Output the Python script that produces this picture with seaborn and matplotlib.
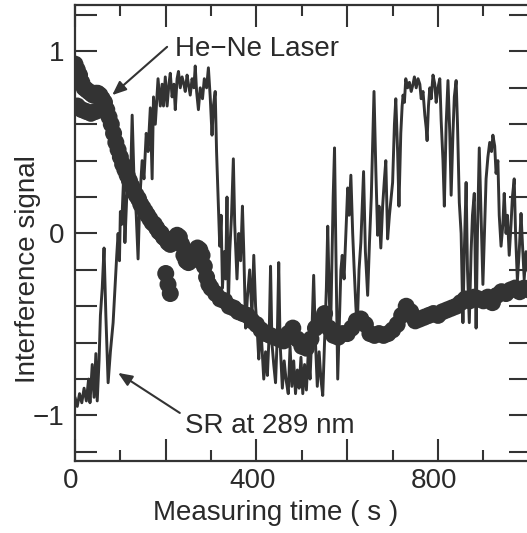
import matplotlib
matplotlib.use("Agg")
import matplotlib.pyplot as plt
import numpy as np
import pandas as pd
import seaborn as sns
from matplotlib.ticker import MultipleLocator, FuncFormatter
from matplotlib.transforms import ScaledTranslation

# He-Ne laser reference fringe
hene_time = [0, 5, 10, 15, 20, 25, 30, 35, 40, 45, 50, 55, 60, 65, 70, 75,
             5, 15, 25, 35, 45, 55,
             80, 85, 90, 95, 100, 105, 110, 115, 120, 125, 130, 135, 140, 145,
             150, 155, 160, 165, 170, 175, 180, 185, 190, 195, 200, 205, 210, 215,
             220, 225, 230, 235, 240, 245, 250, 255, 260, 265, 270, 275, 280, 285,
             290, 295, 300, 310, 320, 330, 340, 350, 360, 370, 380, 390,
             400, 410, 420, 430, 440, 450, 460, 470, 480, 490,
             500, 510, 520, 530, 540, 550, 560, 570, 580, 590,
             600, 610, 620, 630, 640, 650, 660, 670, 680, 690,
             700, 710, 720, 730, 740, 750, 760, 770, 780, 790,
             800, 810, 820, 830, 840, 850, 860, 870, 880, 890,
             900, 910, 920, 930, 940, 950, 960, 970, 980, 990, 1000,
             200, 205, 210]
hene_signal = [0.93, 0.90, 0.87, 0.83, 0.80, 0.79, 0.78, 0.77, 0.76, 0.77, 0.77, 0.76, 0.74, 0.72, 0.68, 0.64,
               0.70, 0.68, 0.67, 0.66, 0.67, 0.68,
               0.60, 0.55, 0.50, 0.46, 0.42, 0.38, 0.35, 0.32, 0.29, 0.26, 0.23, 0.21, 0.19, 0.16,
               0.14, 0.12, 0.10, 0.08, 0.06, 0.05, 0.03, 0.01, 0.00, -0.02, -0.03, -0.05, -0.06, -0.05,
               -0.03, -0.01, -0.02, -0.06, -0.12, -0.15, -0.16, -0.15, -0.13, -0.10, -0.08, -0.09, -0.12, -0.18,
               -0.24, -0.28, -0.30, -0.33, -0.36, -0.37, -0.40, -0.41, -0.43, -0.44, -0.45, -0.48,
               -0.50, -0.53, -0.55, -0.56, -0.57, -0.58, -0.59, -0.55, -0.52, -0.58,
               -0.62, -0.63, -0.58, -0.52, -0.48, -0.44, -0.52, -0.56, -0.57, -0.55,
               -0.55, -0.52, -0.48, -0.47, -0.50, -0.55, -0.56, -0.55, -0.56, -0.55,
               -0.53, -0.50, -0.45, -0.40, -0.43, -0.48, -0.47, -0.46, -0.45, -0.44,
               -0.45, -0.43, -0.42, -0.41, -0.40, -0.38, -0.36, -0.37, -0.35, -0.36,
               -0.37, -0.35, -0.38, -0.34, -0.32, -0.33, -0.31, -0.30, -0.32, -0.30, -0.31,
               -0.22, -0.28, -0.33]

# Synchrotron radiation signal at 289 nm
sr_time = [0, 5, 10, 15, 20, 25, 30, 33, 38, 42, 46, 49, 53, 56, 60, 64, 68, 73, 78, 84,
           88, 92, 95, 98, 100, 103, 107, 110, 114, 118, 122, 126, 130, 135, 139, 143, 148, 152, 157, 161,
           166, 170, 173, 177, 183, 188, 192, 195, 199, 203, 207, 210, 214, 218, 221, 225, 228, 232, 236, 240,
           243, 247, 250, 254, 258, 262, 265, 268, 272, 276, 281, 285, 290, 294, 298, 302, 305, 309, 312, 316,
           319, 322, 325, 329, 332, 335, 338, 341, 345, 349, 352, 357, 361, 365, 369, 372, 376, 380, 385, 390,
           394, 398, 402, 405, 409, 412, 416, 420, 424, 428, 431, 434, 438, 442, 446, 449, 452, 457, 461, 465,
           470, 474, 478, 482, 486, 490, 494, 498, 502, 506, 510, 514, 518, 522, 526, 530, 534, 538, 542, 546,
           550, 554, 557, 560, 563, 566, 569, 572, 575, 579, 583, 586, 589, 593, 597, 601, 604, 608, 612, 615,
           619, 622, 626, 630, 633, 636, 640, 645, 649, 653, 656, 659, 663, 667, 670, 674, 678, 682, 685, 689,
           693, 697, 700, 704, 707, 711, 714, 718, 721, 723, 726, 729, 733, 737, 741, 745, 748, 752, 756, 760,
           763, 767, 771, 774, 776, 779, 782, 785, 789, 793, 796, 800, 804, 807, 811, 814, 818, 822, 826, 829,
           833, 836, 840, 843, 847, 851, 855, 858, 862, 865, 869, 873, 876, 880, 884, 887, 891, 895, 899, 903,
           906, 910, 914, 918, 921, 925, 928, 932, 935, 939, 943, 946, 950, 953, 957, 961, 964, 968, 971, 975,
           979, 983, 986, 990, 994, 998, 1002]
sr_signal = [-0.90, -0.95, -0.88, -0.93, -0.85, -0.92, -0.80, -0.93, -0.72, -0.90, -0.66, -0.92, -0.70, -0.45, -0.30, -0.08, -0.45, -0.82, -0.65, -0.49,
             -0.30, -0.12, 0.00, -0.15, 0.12, 0.05, 0.30, -0.05, 0.20, 0.35, 0.25, 0.65, 0.30, 0.10, -0.14, 0.20, 0.40, 0.30, 0.55, 0.45,
             0.69, 0.30, 0.75, 0.60, 0.85, 0.70, 0.82, 0.70, 0.86, 0.70, 0.82, 0.88, 0.75, 0.82, 0.68, 0.85, 0.89, 0.80, 0.86, 0.82,
             0.78, 0.87, 0.82, 0.76, 0.85, 0.80, 0.92, 0.78, 0.68, 0.80, 0.74, 0.85, 0.80, 0.91, 0.75, 0.54, 0.70, 0.78, 0.45, 0.15,
             -0.07, 0.10, -0.30, -0.10, -0.25, 0.20, -0.40, -0.10, 0.10, 0.41, 0.05, -0.25, 0.00, -0.15, 0.15, -0.10, -0.52, -0.35, -0.20, -0.45,
             -0.12, -0.40, -0.55, -0.69, -0.50, -0.62, -0.80, -0.65, -0.78, -0.55, -0.18, -0.60, -0.72, -0.82, -0.55, -0.16, -0.60, -0.85, -0.70, -0.80,
             -0.88, -0.62, -0.84, -0.70, -0.88, -0.75, -0.85, -0.68, -0.88, -0.72, -0.86, -0.66, -0.80, -0.55, -0.23, -0.60, -0.84, -0.65, -0.80, -0.89,
             -0.60, -0.30, 0.04, -0.30, -0.58, -0.20, 0.20, 0.47, -0.10, -0.80, -0.45, -0.20, -0.12, -0.25, 0.00, 0.25, 0.10, 0.32, 0.00, -0.18,
             -0.40, -0.52, -0.20, -0.05, 0.15, 0.34, -0.10, -0.34, -0.05, 0.20, 0.50, 0.78, 0.35, -0.01, 0.15, -0.08, 0.15, 0.30, 0.40, -0.03,
             0.10, 0.20, 0.28, 0.60, 0.74, 0.45, 0.15, 0.55, 0.70, 0.76, 0.72, 0.85, 0.80, 0.83, 0.78, 0.82, 0.86, 0.80, 0.85, 0.82,
             0.74, 0.78, 0.65, 0.58, 0.51, 0.70, 0.80, 0.74, 0.87, 0.82, 0.72, 0.80, 0.85, 0.62, 0.40, 0.15, 0.60, 0.84, 0.55, 0.21,
             0.55, 0.75, 0.84, 0.60, 0.17, 0.00, -0.49, -0.10, 0.28, -0.20, -0.49, -0.10, 0.10, 0.22, -0.52, 0.00, 0.47, 0.10, -0.28, 0.05,
             0.30, 0.42, 0.50, 0.45, 0.54, 0.48, 0.33, 0.40, 0.10, -0.07, 0.05, 0.22, 0.00, 0.10, -0.12, 0.05, 0.20, 0.30, 0.00, -0.26,
             -0.10, 0.11, -0.05, -0.25, -0.10, -0.20, -0.30]

x_tick_labels = {0: "0", 400: "400", 800: "800"}
y_tick_labels = {-1: "\u22121", 0: "0", 1: "1"}

hene = pd.DataFrame({"time": hene_time, "signal": hene_signal})
sr = pd.DataFrame({"time": sr_time, "signal": sr_signal})

sns.set_theme(style="ticks")
plt.rcParams["font.family"] = ["Liberation Sans", "DejaVu Sans"]

INK = "#333333"
TEXT = "#2a2a2a"
FS = 20

fig = plt.figure(figsize=(5.27, 5.33), dpi=100)
ax = fig.add_axes([75 / 527, 72 / 533, 456 / 527, 456 / 533])

sns.lineplot(data=sr, x="time", y="signal", sort=False, estimator=None,
             color=INK, linewidth=2.1, ax=ax)
sns.scatterplot(data=hene, x="time", y="signal", s=150, color=INK,
                edgecolor="none", linewidth=0, ax=ax, zorder=3)

ax.set_xlim(0, 1005)
ax.set_ylim(-1.25, 1.255)

# ticks on all four sides, pointing inward
ax.xaxis.set_major_locator(MultipleLocator(200))
ax.xaxis.set_minor_locator(MultipleLocator(100))
ax.yaxis.set_major_locator(MultipleLocator(0.2))
ax.xaxis.set_major_formatter(FuncFormatter(
    lambda v, p: x_tick_labels.get(int(round(v)), "")))
ax.yaxis.set_major_formatter(FuncFormatter(
    lambda v, p: y_tick_labels.get(int(round(v)), "") if abs(v - round(v)) < 1e-6 else ""))
ax.tick_params(axis="both", which="both", direction="in", top=True, right=True,
               colors=INK, width=1.5, labelsize=FS, labelcolor=TEXT)
ax.tick_params(axis="x", which="major", length=16, pad=5)
ax.tick_params(axis="x", which="minor", length=8)
ax.tick_params(axis="y", which="major", length=16, pad=8)
for lab in ax.get_xticklabels():
    lab.set_transform(lab.get_transform() + ScaledTranslation(-0.04, 0, fig.dpi_scale_trans))

for sp in ax.spines.values():
    sp.set_color(INK)
    sp.set_linewidth(1.6)

ax.set_xlabel("Measuring time ( s )", fontsize=FS, color=TEXT)
ax.set_ylabel("Interference signal", fontsize=FS, color=TEXT)
ax.xaxis.set_label_coords(0.44, -0.085)
ax.yaxis.set_label_coords(-0.075, 0.42)

arrow = dict(arrowstyle="-|>,head_length=0.6,head_width=0.25", color=INK,
             lw=1.5, mutation_scale=14, shrinkA=0, shrinkB=0)
ax.annotate("", xy=(82, 0.76), xytext=(203, 1.025), arrowprops=arrow)
ax.text(220, 0.975, "He\u2212Ne Laser", fontsize=FS, color=TEXT,
        ha="left", va="baseline")
ax.annotate("", xy=(95, -0.766), xytext=(231, -0.986), arrowprops=arrow)
ax.text(242, -1.096, "SR at 289 nm", fontsize=FS, color=TEXT,
        ha="left", va="baseline")

fig.savefig("out.png", dpi=100)
